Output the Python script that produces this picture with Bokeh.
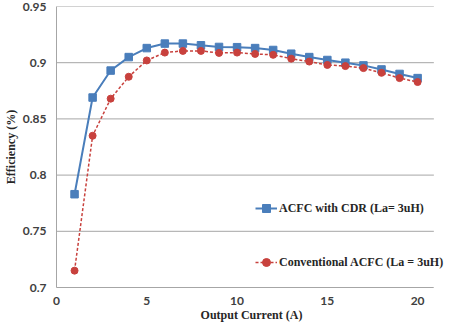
from bokeh.plotting import figure
from bokeh.models import Range1d, FixedTicker, Legend, LegendItem
from bokeh.embed import file_html
from bokeh.resources import INLINE

current = [1, 2, 3, 4, 5, 6, 7, 8, 9, 10, 11, 12, 13, 14, 15, 16, 17, 18, 19, 20]
eff_cdr = [0.783, 0.869, 0.893, 0.905, 0.913, 0.917, 0.917, 0.9155, 0.914, 0.9138,
           0.913, 0.9113, 0.908, 0.905, 0.9024, 0.900, 0.8976, 0.894, 0.890, 0.8863]
eff_conv = [0.715, 0.835, 0.868, 0.8875, 0.902, 0.909, 0.9105, 0.9105, 0.9087, 0.909,
            0.9078, 0.907, 0.9036, 0.901, 0.898, 0.897, 0.8952, 0.891, 0.8863, 0.8828]
label_cdr = "ACFC with CDR (La= 3uH)"
label_conv = "Conventional ACFC (La = 3uH)"
x_ticks = [0, 5, 10, 15, 20]
x_axis_min, x_axis_max = 0, 20.9
y_ticks = [0.7, 0.75, 0.8, 0.85, 0.9, 0.95]
y_tick_labels = ["0.7", "0.75", "0.8", "0.85", "0.9", "0.95"]
x_title = "Output Current (A)"
y_title = "Efficiency (%)"

BLUE = "#4a7ebb"
RED = "#c8413d"
GRID = "#a6a6a6"

p = figure(width=446, height=324, output_backend="svg", toolbar_location=None,
           x_range=Range1d(0, 21.6), y_range=Range1d(0.7, 0.95),
           min_border_top=6, min_border_right=0, min_border_left=56, min_border_bottom=0)
p.outline_line_color = None
p.background_fill_color = "white"
p.border_fill_color = "white"

p.xgrid.grid_line_color = None
p.ygrid.grid_line_color = None
# horizontal gridlines limited to the axis extent
p.segment(x0=[x_axis_min] * len(y_ticks), x1=[x_axis_max] * len(y_ticks),
          y0=y_ticks, y1=y_ticks, line_color=GRID, line_width=1, level="underlay")

for ax in (p.xaxis[0], p.yaxis[0]):
    ax.axis_line_color = GRID
    ax.major_tick_line_color = None
    ax.minor_tick_line_color = None
    ax.major_label_text_font = "Lato"
    ax.major_label_text_font_style = "bold"
    ax.major_label_text_font_size = "12px"
    ax.major_label_text_color = "#404040"
    ax.axis_label_text_font = "Liberation Serif"
    ax.axis_label_text_font_style = "bold"
    ax.axis_label_text_font_size = "12px"
    ax.axis_label_text_color = "#262626"

p.xaxis.bounds = (x_axis_min, x_axis_max)
p.xaxis.ticker = FixedTicker(ticks=x_ticks)
p.yaxis.ticker = FixedTicker(ticks=y_ticks)
p.yaxis.major_label_overrides = {t: s for t, s in zip(y_ticks, y_tick_labels)}
p.xaxis.axis_label = x_title
p.yaxis.axis_label = y_title
p.xaxis.major_label_standoff = 3
p.yaxis.major_label_standoff = 4
p.xaxis.axis_label_standoff = 0
p.yaxis.axis_label_standoff = 2

l1 = p.line(current, eff_cdr, line_color=BLUE, line_width=2)
m1 = p.scatter(current, eff_cdr, marker="square", size=7.5, fill_color=BLUE, line_color=BLUE)
l2 = p.line(current, eff_conv, line_color=RED, line_width=1.5, line_dash="3 2")
m2 = p.scatter(current, eff_conv, marker="circle", size=7, fill_color=RED, line_color=RED)

legend = Legend(items=[LegendItem(label=label_cdr, renderers=[l1, m1]),
                       LegendItem(label=label_conv, renderers=[l2, m2])],
                location=(199, 15), padding=0, margin=0, spacing=34,
                border_line_color=None, background_fill_alpha=0,
                label_text_font="Liberation Serif", label_text_font_style="bold",
                label_text_font_size="12px", label_text_color="#262626",
                glyph_width=22, glyph_height=20, label_standoff=2)
p.add_layout(legend, "center")

open("out.html", "w").write(file_html(p, INLINE))
